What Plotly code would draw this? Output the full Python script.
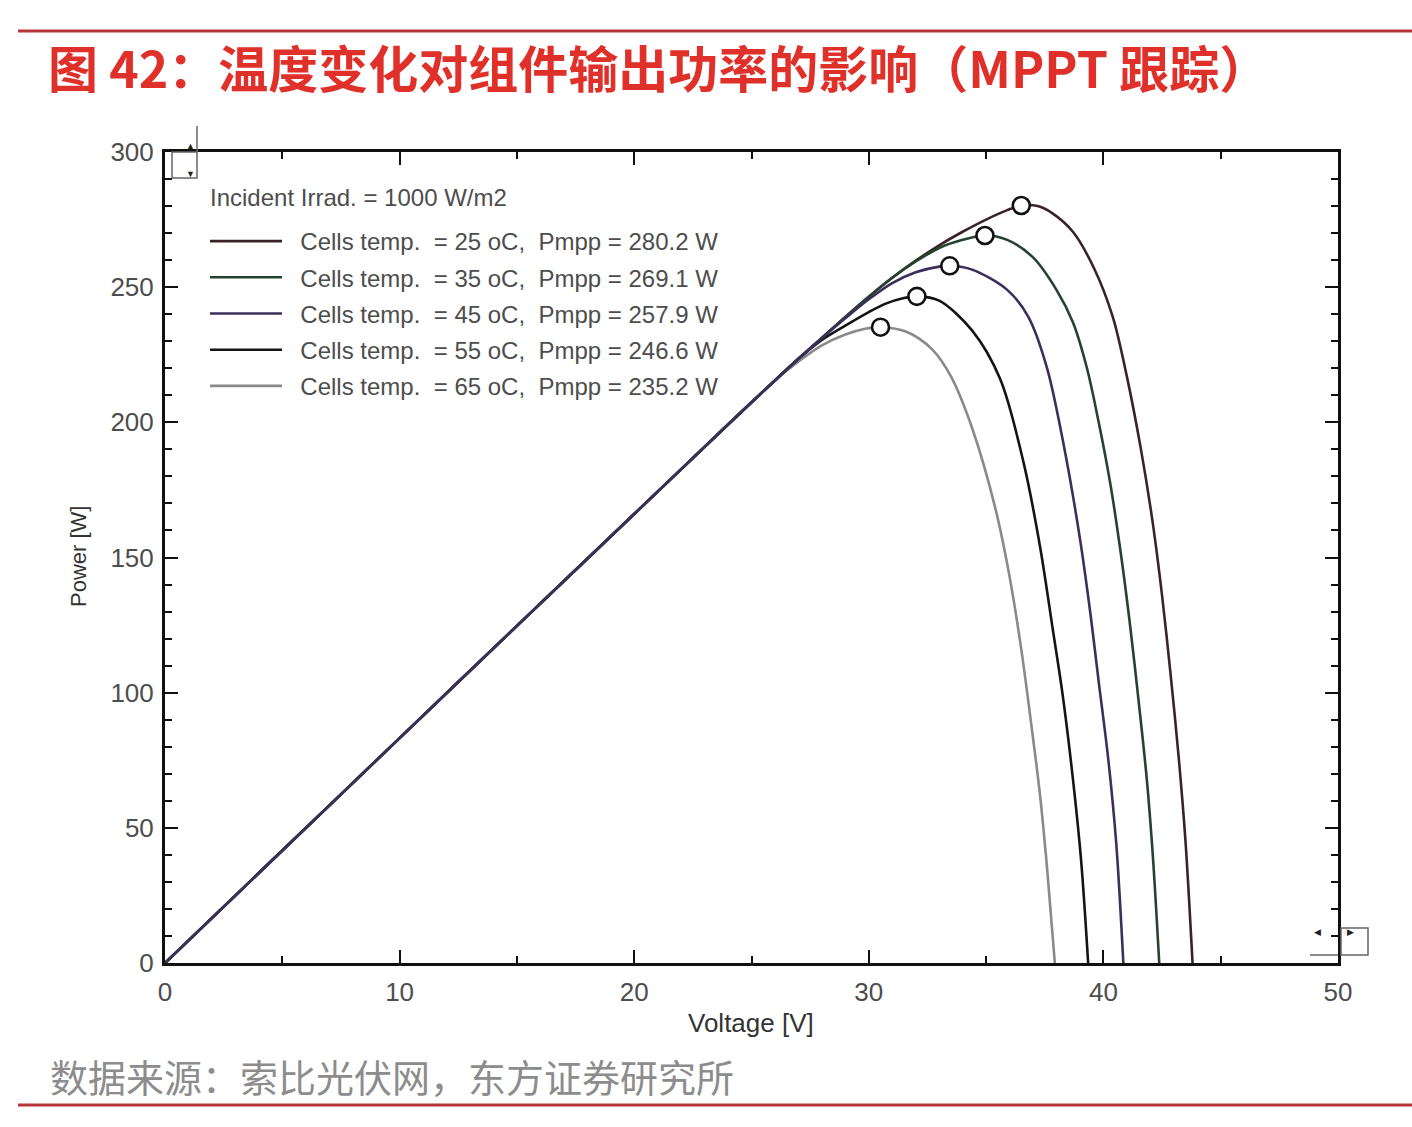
import plotly.graph_objects as go

# ---------------- data ----------------
v_25 = [0, 5, 10, 15, 20, 24, 26, 27, 28, 29, 30, 31, 32, 33, 34, 35, 35.9, 36.5,
        37.2, 37.8, 38.7, 39.6, 40.4, 41.0, 41.6, 42.1, 42.5, 42.85, 43.2, 43.5, 43.8]
p_25 = [0, 41.6, 83.2, 124.7, 166.1, 199.2, 215.5, 223.5, 231.2, 239, 246.5, 253.5, 259.8, 265.5, 270.5, 275, 278.5, 280.2,
        280, 277.5, 270.5, 257, 239, 217, 190, 163, 136, 108, 77, 45, 0]

v_35 = [0, 5, 10, 15, 20, 24, 26, 27, 28, 29, 30, 31, 32, 33, 34, 34.95,
        35.9, 37.0, 38.0, 38.7, 39.3, 39.8, 40.3, 40.75, 41.15, 41.5, 41.85, 42.12, 42.38]
p_35 = [0, 41.6, 83.2, 124.7, 166.1, 199.2, 215.5, 223.5, 231.2, 239, 246.5, 253.5, 259.5, 264.5, 267.5, 269.1,
        267.5, 261, 249, 237, 220, 200, 177, 151, 124, 97, 68, 38, 0]

v_45 = [0, 5, 10, 15, 20, 24, 26, 27, 28, 29, 30, 31, 32, 33, 33.45,
        34.4, 35.9, 36.8, 37.6, 38.3, 39.0, 39.45, 39.8, 40.2, 40.55, 40.85]
p_45 = [0, 41.6, 83.2, 124.7, 166.1, 199.2, 215.5, 223.5, 231.2, 238.5, 245.5, 251.5, 255.5, 257.6, 257.9,
        256.5, 249, 239, 220, 192, 157, 129, 104, 76, 44, 0]

v_55 = [0, 5, 10, 15, 20, 24, 26, 27, 28, 29, 30, 30.75, 31.5, 32.05,
        33.0, 34.4, 35.6, 36.6, 37.3, 37.85, 38.25, 38.65, 39.05, 39.35]
p_55 = [0, 41.6, 83.2, 124.7, 166.1, 199.2, 215.5, 223.5, 230.5, 235.8, 240.8, 244, 246, 246.6,
        245, 234, 216, 185, 154, 123, 100, 72, 38, 0]

v_65 = [0, 5, 10, 15, 20, 24, 26, 27, 28, 29, 29.8, 30.5,
        31.6, 32.7, 33.5, 34.4, 35.4, 36.0, 36.5, 36.9, 37.3, 37.6, 37.93]
p_65 = [0, 41.6, 83.2, 124.7, 166.1, 199.2, 215.5, 222.5, 228.5, 232.5, 234.5, 235.2,
        233.5, 227, 217, 198, 168, 143, 116, 90, 62, 35, 0]

mpp_v = [36.5, 34.95, 33.45, 32.05, 30.5]
mpp_p = [280.2, 269.1, 257.9, 246.6, 235.2]

series_names = [
    "Cells temp.  = 25 oC,  Pmpp = 280.2 W",
    "Cells temp.  = 35 oC,  Pmpp = 269.1 W",
    "Cells temp.  = 45 oC,  Pmpp = 257.9 W",
    "Cells temp.  = 55 oC,  Pmpp = 246.6 W",
    "Cells temp.  = 65 oC,  Pmpp = 235.2 W",
]
series_colors = ["#3a2326", "#24432e", "#3d2f5c", "#141414", "#8a8a8a"]

x_ticks = [0, 10, 20, 30, 40, 50]
y_ticks = [0, 50, 100, 150, 200, 250, 300]

title_text = "图 42：温度变化对组件输出功率的影响（MPPT 跟踪）"
source_text = "数据来源：索比光伏网，东方证券研究所"
legend_head = "Incident Irrad. = 1000 W/m2"

# ---------------- figure ----------------
W, H = 1412, 1127
L, R, T, B = 165, 74, 152, 164
PW, PH = W - L - R, H - T - B


def px(x):
    return (x - L) / PW


def py(y):
    return (H - B - y) / PH


fig = go.Figure()
curves = [(v_25, p_25), (v_35, p_35), (v_45, p_45), (v_55, p_55), (v_65, p_65)]
draw_order = [4, 3, 0, 1, 2]
for i in draw_order:
    v, p = curves[i]
    fig.add_trace(go.Scatter(
        x=v, y=p, mode="lines", name="\u00a0\u00a0" + series_names[i],
        line=dict(color=series_colors[i], width=2.6, shape="spline", smoothing=0.9),
        legendrank=i + 1, legendgroup=str(i),
    ))

fig.add_trace(go.Scatter(
    x=mpp_v, y=mpp_p, mode="markers", showlegend=False,
    marker=dict(size=17, color="white", line=dict(color="#111111", width=2.6)),
))

tick_font = dict(family="Liberation Sans, Arial, sans-serif", size=26, color="#4d4d4d")
fig.update_xaxes(
    range=[0, 50], tickvals=x_ticks, ticks="inside", ticklen=13, tickwidth=2, tickcolor="#111",
    minor=dict(dtick=5, tick0=0, ticks="inside", ticklen=7, tickwidth=1.5, tickcolor="#111"),
    showline=True, linewidth=3, linecolor="#111", mirror="allticks", showgrid=False, zeroline=False,
    tickfont=tick_font, ticklabelstandoff=4,
)
fig.update_yaxes(
    range=[0, 300], tickvals=y_ticks, ticks="inside", ticklen=13, tickwidth=2, tickcolor="#111",
    minor=dict(dtick=10, tick0=0, ticks="inside", ticklen=7, tickwidth=1.5, tickcolor="#111"),
    showline=True, linewidth=3, linecolor="#111", mirror="allticks", showgrid=False, zeroline=False,
    tickfont=tick_font, ticklabelstandoff=3,
)

annotations = [
    dict(text=legend_head, x=px(208), y=py(197), xref="paper", yref="paper",
         xanchor="left", yanchor="middle", showarrow=False,
         font=dict(family="Liberation Sans, Arial, sans-serif", size=24, color="#4d4d4d")),
    dict(text="Power [W]", x=px(78), y=py(557), xref="paper", yref="paper", textangle=-90,
         xanchor="center", yanchor="middle", showarrow=False,
         font=dict(family="Liberation Sans, Arial, sans-serif", size=22, color="#333")),
    dict(text="Voltage [V]", x=px(751), y=py(1023), xref="paper", yref="paper",
         xanchor="center", yanchor="middle", showarrow=False,
         font=dict(family="Liberation Sans, Arial, sans-serif", size=26, color="#333")),
    dict(text=source_text, x=px(48), y=py(1075), xref="paper", yref="paper",
         xanchor="left", yanchor="middle", showarrow=False,
         font=dict(family="Noto Sans CJK SC", size=38, color="#8c8c8c")),
    dict(text="▲", x=px(184), y=py(137), xref="paper", yref="paper", showarrow=False,
         font=dict(size=9, color="#222")),
    dict(text="▼", x=px(184), y=py(165), xref="paper", yref="paper", showarrow=False,
         font=dict(size=9, color="#222")),
    dict(text="◀", x=px(1323), y=py(940), xref="paper", yref="paper", showarrow=False,
         font=dict(size=9, color="#222")),
    dict(text="▶", x=px(1356), y=py(940), xref="paper", yref="paper", showarrow=False,
         font=dict(size=9, color="#222")),
]

shapes = [
    dict(type="line", xref="paper", yref="paper", x0=px(18), x1=px(1412), y0=py(31), y1=py(31),
         line=dict(color="#b8353b", width=3)),
    dict(type="line", xref="paper", yref="paper", x0=px(18), x1=px(1412), y0=py(1105), y1=py(1105),
         line=dict(color="#b8353b", width=3)),
    dict(type="rect", xref="paper", yref="paper", x0=px(172), x1=px(197), y0=py(152), y1=py(178),
         line=dict(color="#666", width=1.5)),
    dict(type="line", xref="paper", yref="paper", x0=px(197), x1=px(197), y0=py(126), y1=py(152),
         line=dict(color="#666", width=1.5)),
    dict(type="rect", xref="paper", yref="paper", x0=px(1341), x1=px(1368), y0=py(928), y1=py(955),
         line=dict(color="#666", width=1.5)),
    dict(type="line", xref="paper", yref="paper", x0=px(1310), x1=px(1338), y0=py(955), y1=py(955),
         line=dict(color="#666", width=1.5)),
]

fig.update_layout(
    width=W, height=H,
    margin=dict(l=L, r=R, t=T, b=B),
    paper_bgcolor="white", plot_bgcolor="white",
    title=dict(text=title_text, xref="container", yref="container",
               x=48 / W, xanchor="left", y=1 - 70 / H, yanchor="middle",
               font=dict(family="Noto Sans CJK SC", size=50, color="#e0302a", weight="bold")),
    showlegend=True,
    legend=dict(x=px(205), y=py(219), xanchor="left", yanchor="top",
                bgcolor="rgba(0,0,0,0)", borderwidth=0, itemwidth=72,
                tracegroupgap=2, traceorder="grouped",
                font=dict(family="Liberation Sans, Arial, sans-serif", size=24, color="#4d4d4d")),
    annotations=annotations,
    shapes=shapes,
)

fig.write_html("out.html")
